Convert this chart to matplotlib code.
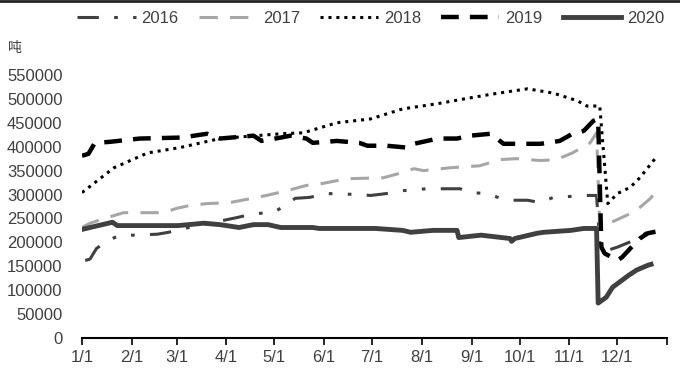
import matplotlib.pyplot as plt
from matplotlib.lines import Line2D

# day of year (0 = 1/1) and values
d2016 = [2, 5, 9, 16, 24, 32, 47, 54, 61, 97, 107, 119, 127, 133, 142, 153, 172, 180, 190, 200, 215, 236, 242, 253, 261, 269, 278, 286, 294, 305, 313, 321, 323, 325, 334, 345, 353, 361]
v2016 = [162000, 165000, 187000, 204000, 215000, 215000, 217000, 221000, 227000, 252000, 260000, 262000, 277000, 292000, 294000, 302000, 300000, 298000, 302000, 308000, 312000, 312000, 304000, 302000, 292000, 288000, 288000, 283000, 294000, 296000, 298000, 298000, 200000, 180000, 190000, 205000, 222000, 228000]

d2017 = [0, 5, 16, 26, 42, 51, 59, 67, 78, 92, 103, 115, 128, 140, 150, 165, 188, 200, 207, 213, 230, 248, 261, 271, 286, 296, 306, 317, 321, 323, 329, 342, 348, 354, 359]
v2017 = [231000, 240000, 252000, 262000, 262000, 262000, 271000, 277000, 281000, 283000, 290000, 298000, 308000, 319000, 323000, 333000, 335000, 346000, 354000, 350000, 356000, 360000, 373000, 375000, 371000, 373000, 387000, 408000, 429000, 231000, 240000, 260000, 273000, 290000, 308000]

d2018 = [0, 20, 41, 61, 86, 124, 138, 159, 180, 200, 222, 242, 256, 278, 294, 309, 315, 323, 328, 334, 342, 348, 358]
v2018 = [304000, 356000, 387000, 398000, 417000, 427000, 429000, 450000, 458000, 479000, 490000, 502000, 510000, 521000, 512000, 496000, 485000, 485000, 281000, 302000, 315000, 335000, 377000]

d2019 = [0, 4, 8, 17, 36, 61, 66, 78, 86, 107, 112, 124, 130, 140, 144, 159, 173, 178, 190, 203, 207, 222, 234, 242, 255, 263, 278, 286, 298, 306, 313, 319, 322, 324, 326, 334, 337, 345, 348, 353, 362]
v2019 = [381000, 385000, 408000, 410000, 417000, 419000, 421000, 427000, 417000, 423000, 412000, 419000, 423000, 417000, 408000, 412000, 408000, 402000, 402000, 398000, 406000, 417000, 417000, 423000, 427000, 406000, 406000, 406000, 412000, 427000, 433000, 454000, 458000, 190000, 177000, 162000, 169000, 198000, 208000, 219000, 225000]

d2020 = [0, 5, 19, 22, 60, 76, 86, 98, 107, 116, 124, 144, 148, 183, 200, 205, 219, 234, 235, 249, 267, 268, 270, 284, 288, 305, 313, 321, 322, 327, 331, 337, 341, 346, 353, 355]
v2020 = [227000, 231000, 242000, 235000, 235000, 240000, 237000, 231000, 237000, 237000, 231000, 231000, 229000, 229000, 225000, 221000, 225000, 225000, 210000, 215000, 208000, 202000, 208000, 219000, 221000, 225000, 229000, 229000, 73000, 85000, 106000, 121000, 131000, 142000, 152000, 154000]

month_days = [0, 31, 59, 90, 120, 151, 181, 212, 243, 273, 304, 334, 365]
month_labels = ["1/1", "2/1", "3/1", "4/1", "5/1", "6/1", "7/1", "8/1", "9/1", "10/1", "11/1", "12/1", ""]

plt.rcParams['font.family'] = ['Liberation Sans', 'Noto Sans CJK SC', 'DejaVu Sans']

fig = plt.figure(figsize=(6.8, 3.71), dpi=100)
ax = fig.add_axes([0.1206, 0.089, 0.8604, 0.709])

dark = '#404040'
light = '#a6a6a6'
s2016 = dict(color=dark, lw=2.2, dashes=(7, 5, 1.2, 5, 1.2, 5))
s2017 = dict(color=light, lw=2.2, dashes=(6, 4))
s2018 = dict(color='black', lw=2.2, dashes=(1, 1.6))
s2019 = dict(color='black', lw=3.2, dashes=(4, 2.5))
s2020 = dict(color=dark, lw=3.5)

ax.plot(d2016, v2016, **s2016)
ax.plot(d2017, v2017, **s2017)
ax.plot(d2018, v2018, **s2018)
ax.plot(d2019, v2019, **s2019)
ax.plot(d2020, v2020, **s2020)

ax.set_xlim(0, 365)
ax.set_ylim(0, 550000)
ax.set_yticks(range(0, 550001, 50000))
ax.set_xticks(month_days)
ax.set_xticklabels(month_labels)
ax.tick_params(axis='y', length=0, labelsize=12, labelcolor='#404040', pad=14)
ax.tick_params(axis='x', direction='out', length=5, width=1.2, labelsize=12, labelcolor='#404040')
for s in ['top', 'right', 'left']:
    ax.spines[s].set_visible(False)
ax.spines['bottom'].set_linewidth(1.5)

fig.text(0.012, 0.86, '吨', fontsize=10, color='#404040', family=['Noto Sans CJK SC', 'DejaVu Sans'])

handles = [Line2D([], [], **s) for s in (s2016, s2017, s2018, s2019, s2020)]
fig.legend(handles, ['2016', '2017', '2018', '2019', '2020'], loc='center', bbox_to_anchor=(0.545, 0.95),
           ncol=5, frameon=False, fontsize=12, handlelength=3.5, columnspacing=1.2, handletextpad=0.35,
           labelcolor='#404040')

fig.add_artist(Line2D([0, 1], [0.997, 0.997], color='#222222', lw=2, transform=fig.transFigure))

plt.savefig('out.png', dpi=100)
